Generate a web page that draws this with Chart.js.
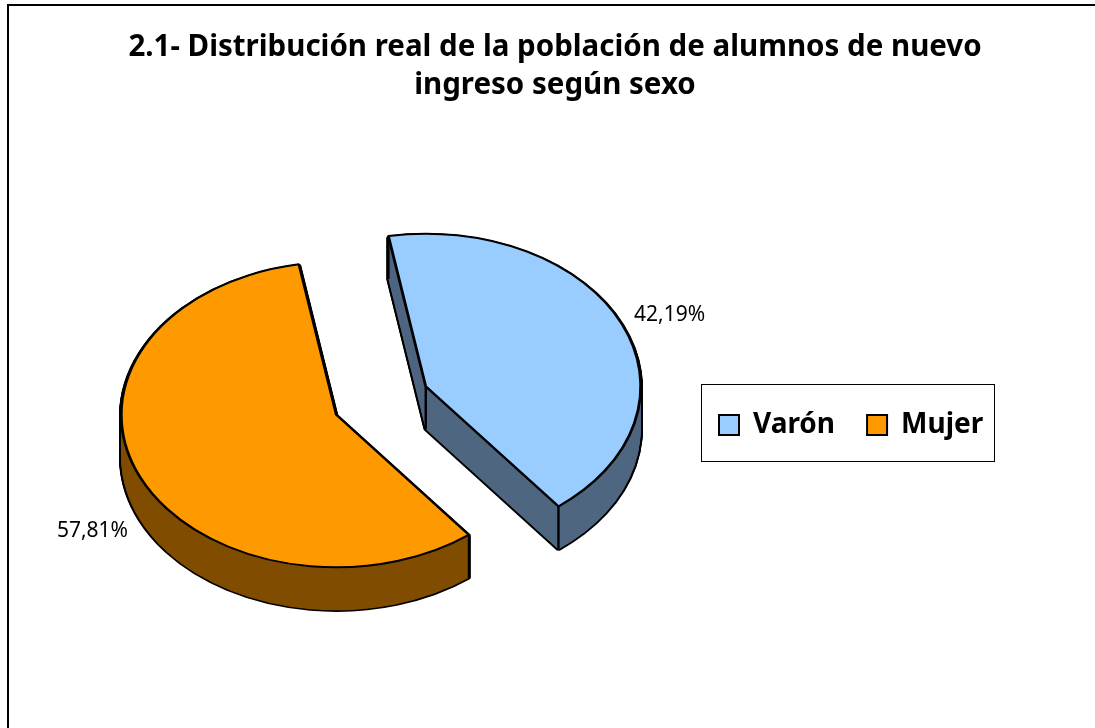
<!DOCTYPE html>
<html>
<head>
<meta charset="utf-8">
<title>Distribución por sexo</title>
<script src="https://cdn.jsdelivr.net/npm/chart.js@4/dist/chart.umd.js"></script>
<style>
  html, body { margin: 0; padding: 0; background: #fff; overflow: hidden; }
  canvas { display: block; }
</style>
</head>
<body>
<canvas id="chart" width="1095" height="728"></canvas>
<script>
const categories = ["Varón", "Mujer"];
const values = [42.19, 57.81];
const topColors = ["#99CCFF", "#FF9900"];
const sideColors = ["#4F6680", "#804D00"];
const titleLines = ["2.1- Distribución real de la población de alumnos de nuevo", "ingreso según sexo"];

const FONT = "'Noto Sans', sans-serif";
const TILT = 0.71;      // vertical squash of the pie disc
const DEPTH = 43;       // height of the 3D side, px
const EXPLODE = 49;     // each slice pulled out from the centre, px (in disc space)
const LABEL_R = 267;    // data label distance from slice centre (in disc space)
const LEGEND_BOX = { left: 701, top: 384, right: 994, bottom: 461 };
const LEGEND_PAD = 32;

// Chart.js pie arcs are flat circles, so tilt the context and stack copies of each arc for the side.
function drawTilted(ctx, el, dy, style) {
  const mid = (el.startAngle + el.endAngle) / 2;
  const saved = el.options;
  ctx.save();
  ctx.translate(el.x, el.y + dy);
  ctx.scale(1, TILT);
  ctx.translate(Math.cos(mid) * EXPLODE - el.x, Math.sin(mid) * EXPLODE - el.y);
  el.options = Object.assign({}, saved, style);
  el.draw(ctx);
  el.options = saved;
  ctx.restore();
}

// Screen position of a point given in the slice's own polar coordinates.
function toScreen(el, angle, r) {
  const mid = (el.startAngle + el.endAngle) / 2;
  return {
    x: el.x + Math.cos(mid) * EXPLODE + Math.cos(angle) * r,
    y: el.y + (Math.sin(mid) * EXPLODE + Math.sin(angle) * r) * TILT,
  };
}

// Is a screen point under the slice's top face? Then the edge ending there is hidden.
function underTop(el, p) {
  const c = toScreen(el, 0, 0);
  const dx = p.x - c.x, dy = (p.y - c.y) / TILT;
  if (Math.hypot(dx, dy) > el.outerRadius) return false;
  let a = Math.atan2(dy, dx);
  while (a < el.startAngle) a += Math.PI * 2;
  return a <= el.endAngle;
}

const pie3d = {
  id: "pie3d",
  afterLayout(chart) {
    // Move the title and the legend where the picture has them.
    chart.titleBlock.left = 15;
    chart.titleBlock.right = 1095;
    chart.titleBlock.top = 29;
    chart.legend.left = 719 - LEGEND_PAD;
    chart.legend.right = chart.width;
    chart.legend.top = 411 - LEGEND_PAD;
    chart.legend.bottom = LEGEND_BOX.bottom;
  },
  beforeDraw(chart) {
    const ctx = chart.ctx;
    ctx.save();
    ctx.strokeStyle = "#000";
    ctx.lineWidth = 2;
    ctx.beginPath();
    ctx.moveTo(8, chart.height);
    ctx.lineTo(8, 5);
    ctx.lineTo(chart.width, 5);
    ctx.stroke();
    ctx.lineWidth = 1;
    ctx.strokeRect(LEGEND_BOX.left + 0.5, LEGEND_BOX.top + 0.5,
      LEGEND_BOX.right - LEGEND_BOX.left, LEGEND_BOX.bottom - LEGEND_BOX.top);
    ctx.restore();
  },
  beforeDatasetDraw(chart, args) {
    const ctx = chart.ctx;
    const arcs = args.meta.data;
    arcs.forEach((el) => {
      // black silhouette first, then the side colour on top leaves just the outer line
      for (let d = DEPTH; d > 0; d--) {
        drawTilted(ctx, el, d, { backgroundColor: "#000", borderColor: "#000", borderWidth: 4.4 });
      }
    });
    arcs.forEach((el, i) => {
      for (let d = DEPTH; d > 0; d--) {
        drawTilted(ctx, el, d, { backgroundColor: sideColors[i], borderWidth: 0 });
      }
    });
    arcs.forEach((el) => {
      ctx.save();
      ctx.strokeStyle = "#000";
      ctx.lineWidth = 2.4;
      [[el.startAngle, el.outerRadius], [el.endAngle, el.outerRadius], [0, 0]].forEach(([a, r]) => {
        const p = toScreen(el, a, r);
        if (underTop(el, { x: p.x, y: p.y + DEPTH })) return;
        ctx.beginPath();
        ctx.moveTo(p.x, p.y);
        ctx.lineTo(p.x, p.y + DEPTH);
        ctx.stroke();
      });
      ctx.restore();
    });
    arcs.forEach((el, i) => {
      drawTilted(ctx, el, 0, { backgroundColor: topColors[i], borderColor: "#000", borderWidth: 2.8 });
    });
    // data labels
    ctx.save();
    ctx.font = "21px " + FONT;
    ctx.fillStyle = "#000";
    ctx.textAlign = "center";
    ctx.textBaseline = "middle";
    arcs.forEach((el, i) => {
      const mid = (el.startAngle + el.endAngle) / 2;
      const p = toScreen(el, mid, LABEL_R);
      const extra = Math.sin(mid) > 0 ? DEPTH - 4 : 6;
      ctx.fillText(values[i].toFixed(2).replace(".", ",") + "%", p.x, p.y + extra);
    });
    ctx.restore();
    return false; // everything is drawn above
  },
};

new Chart(document.getElementById("chart"), {
  type: "pie",
  data: {
    labels: categories,
    datasets: [{
      data: values,
      backgroundColor: topColors,
      borderColor: "#000",
      borderWidth: 2,
    }],
  },
  options: {
    responsive: false,
    animation: false,
    rotation: -10,
    radius: 215,
    layout: { padding: { top: 0, left: 0, right: 333, bottom: 73 } },
    plugins: {
      title: {
        display: true,
        text: titleLines,
        color: "#000",
        font: { family: FONT, size: 29.5, weight: "bold", lineHeight: 1.288 },
        padding: 0,
      },
      legend: {
        position: "top",
        align: "start",
        labels: {
          color: "#000",
          boxWidth: 20,
          boxHeight: 20,
          padding: LEGEND_PAD,
          font: { family: FONT, size: 28, weight: "bold" },
        },
      },
      tooltip: { enabled: false },
    },
  },
  plugins: [pie3d],
});
</script>
</body>
</html>
